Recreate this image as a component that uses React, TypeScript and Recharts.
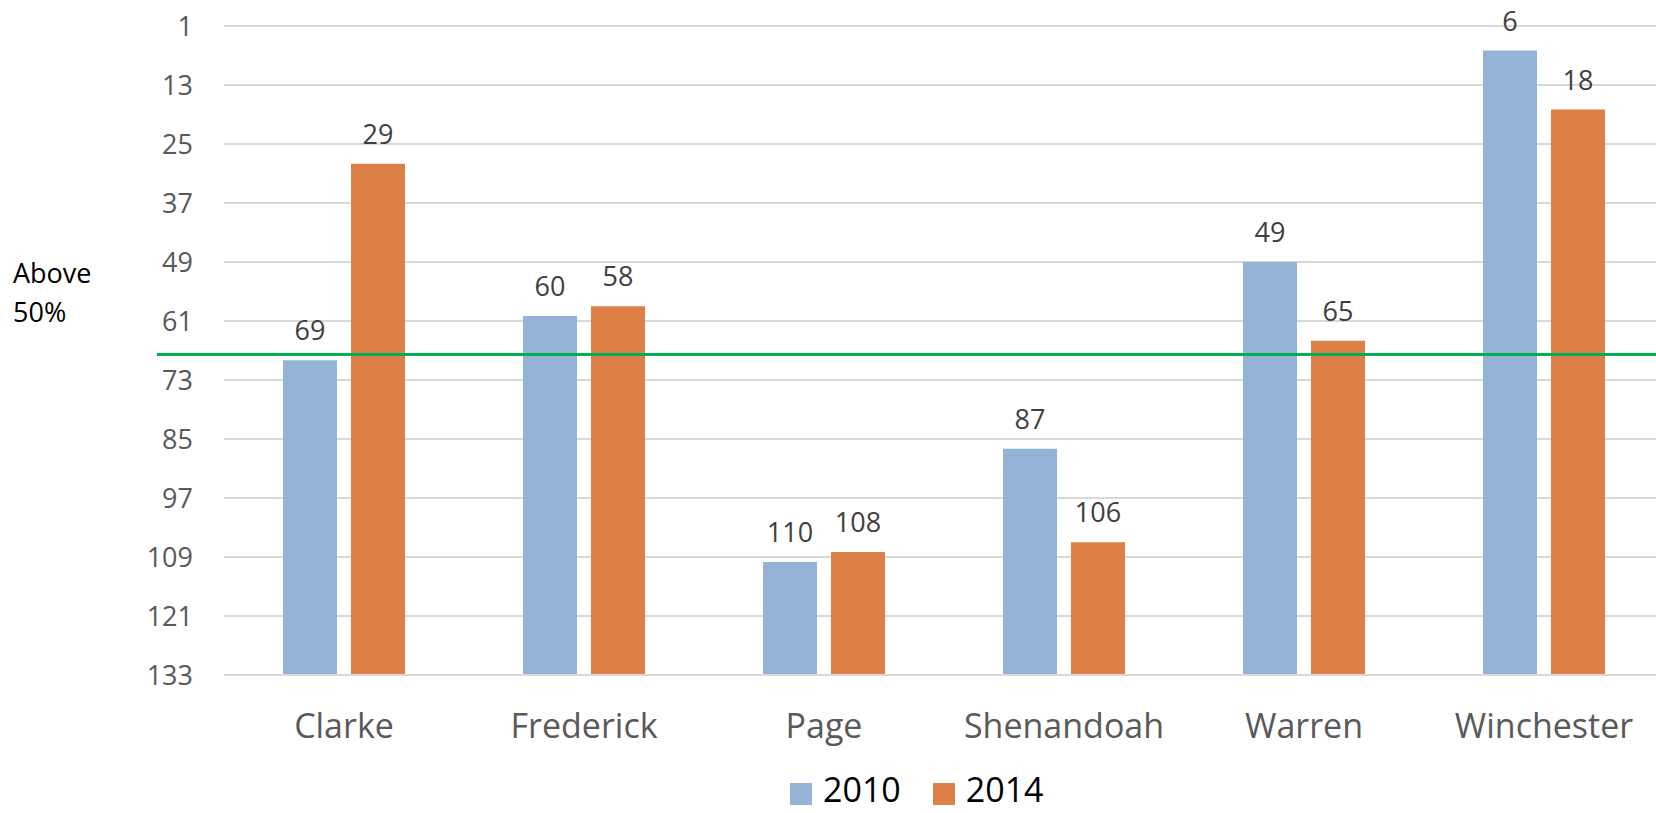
import React from 'react';
import {
  BarChart,
  Bar,
  XAxis,
  YAxis,
  CartesianGrid,
  LabelList,
  ReferenceLine
} from 'recharts';

const counties = ['Clarke', 'Frederick', 'Page', 'Shenandoah', 'Warren', 'Winchester'];
const rank2010 = [69, 60, 110, 87, 49, 6];
const rank2014 = [29, 58, 108, 106, 65, 18];
const rankTicks = [1, 13, 25, 37, 49, 61, 73, 85, 97, 109, 121, 133];
const bottomRank = 133;
const above50 = 67.8;

const data = counties.map((name, i) => ({
  name,
  y2010: rank2010[i],
  y2014: rank2014[i]
}));

const BLUE = '#95B3D7';
const ORANGE = '#DD8047';
const FONT = '"Open Sans", sans-serif';

const YTick = ({ x, y, payload }: any) => (
  <text x={x - 31} y={y} dy={10} textAnchor="end" fill="#595959" fontSize={27}>
    {payload.value}
  </text>
);

const XTick = ({ x, y, payload }: any) => (
  <text x={x} y={y + 63} textAnchor="middle" fill="#595959" fontSize={34}>
    {payload.value}
  </text>
);

const GreenLine = (props: any) => {
  const { x1, y1, x2 } = props;
  return (
    <g>
      <line x1={x1 - 67} y1={y1} x2={x2} y2={y1} stroke="#00B050" strokeWidth={3} />
      <text x={13} y={y1 - 71} fill="#000" fontSize={27}>Above</text>
      <text x={13} y={y1 - 32} fill="#000" fontSize={27}>50%</text>
    </g>
  );
};

const swatch = (color: string) => ({
  width: 22,
  height: 22,
  background: color,
  display: 'inline-block',
  marginRight: 11,
  position: 'relative' as const,
  top: 5
});

export default function App() {
  return (
    <div
      style={{
        position: 'absolute',
        left: 0,
        top: 0,
        width: 1656,
        height: 813,
        overflow: 'hidden',
        background: '#fff',
        fontFamily: FONT
      }}
    >
      <BarChart
        width={1664}
        height={813}
        data={data}
        margin={{ top: 26, right: 0, bottom: 78, left: 0 }}
        barGap={14}
        barSize={54}
      >
        <CartesianGrid vertical={false} stroke="#D9D9D9" strokeWidth={2} />
        <XAxis
          dataKey="name"
          height={60}
          axisLine={{ stroke: '#D9D9D9', strokeWidth: 2 }}
          tickLine={false}
          tickSize={0}
          tickMargin={0}
          tick={<XTick />}
          interval={0}
        />
        <YAxis
          type="number"
          reversed
          domain={[1, bottomRank]}
          ticks={rankTicks}
          interval={0}
          width={224}
          axisLine={false}
          tickLine={false}
          tickSize={0}
          tickMargin={0}
          tick={<YTick />}
          allowDataOverflow
        />
        <Bar dataKey={(d: any) => [bottomRank, d.y2010]} name="2010" fill={BLUE} isAnimationActive={false}>
          <LabelList dataKey="y2010" position="top" offset={20} fill="#404040" fontSize={27} />
        </Bar>
        <Bar dataKey={(d: any) => [bottomRank, d.y2014]} name="2014" fill={ORANGE} isAnimationActive={false}>
          <LabelList dataKey="y2014" position="top" offset={20} fill="#404040" fontSize={27} />
        </Bar>
        <ReferenceLine y={above50} shape={<GreenLine />} />
      </BarChart>
      <div
        style={{
          position: 'absolute',
          top: 766,
          left: 790,
          display: 'flex',
          alignItems: 'center',
          fontSize: 34,
          color: '#000',
          lineHeight: 'normal'
        }}
      >
        <span style={swatch(BLUE)} />
        <span style={{ marginRight: 32 }}>2010</span>
        <span style={swatch(ORANGE)} />
        <span>2014</span>
      </div>
    </div>
  );
}
